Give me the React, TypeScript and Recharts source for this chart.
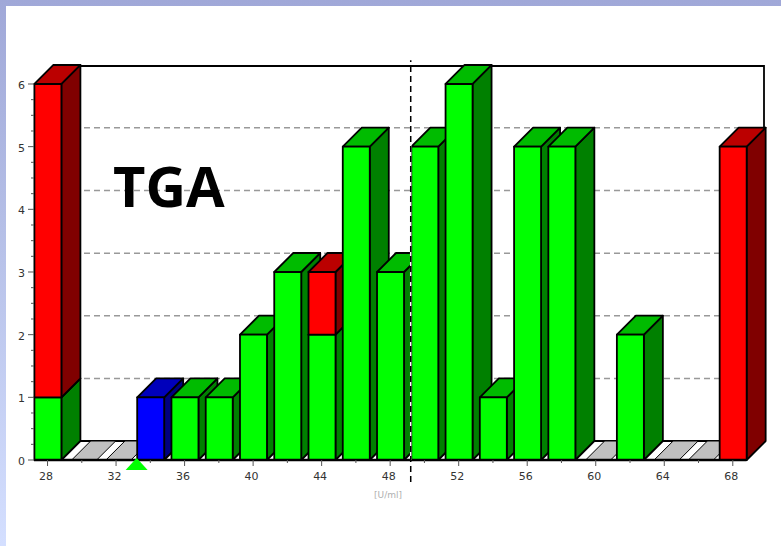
import React from "react";
import { ComposedChart, Bar, XAxis, YAxis, CartesianGrid, ReferenceLine, ReferenceDot } from "recharts";

const categories = [28, 30, 32, 34, 36, 38, 40, 42, 44, 46, 48, 50, 52, 54, 56, 58, 60, 62, 64, 66, 68];
const greenValues = [1, 0, 0, 0, 1, 1, 2, 3, 2, 5, 3, 5, 6, 1, 5, 5, 0, 2, 0, 0, 0];
const redValues = [5, 0, 0, 0, 0, 0, 0, 0, 1, 0, 0, 0, 0, 0, 0, 0, 0, 0, 0, 0, 5];
const blueValues = [0, 0, 0, 1, 0, 0, 0, 0, 0, 0, 0, 0, 0, 0, 0, 0, 0, 0, 0, 0, 0];
const xTicks = categories;
const yTicks = [0, 0.25, 0.5, 0.75, 1, 1.25, 1.5, 1.75, 2, 2.25, 2.5, 2.75, 3, 3.25, 3.5, 3.75, 4, 4.25, 4.5, 4.75, 5, 5.25, 5.5, 5.75, 6];
const gridLevels = [1.3, 2.3, 3.3, 4.3, 5.3];
const cutoff = 49.2;
const markerAt = 33.2;

const rows = categories.map((c, i) => ({
  c,
  green: greenValues[i],
  red: redValues[i],
  blue: blueValues[i],
  total: greenValues[i] + redValues[i] + blueValues[i],
}));

const DEPTH = 19;
const FONT = "'DejaVu Sans', sans-serif";
const PALETTE: Record<string, [string, string, string]> = {
  green: ["#00ff00", "#00bb00", "#008000"],
  red: ["#ff0000", "#bb0000", "#800000"],
  blue: ["#0000ff", "#0000bb", "#000080"],
};

function Block3D(props: any) {
  const { x, y, width, height, payload } = props;
  const bottom = y + height;
  const edge = { stroke: "#000", strokeWidth: 1.8, strokeLinejoin: "round" as const };
  if (!payload.total) {
    const l = x + 3;
    const w = width - 2;
    return (
      <path
        d={`M${l},${bottom} L${l + DEPTH},${bottom - DEPTH} L${l + w + DEPTH},${bottom - DEPTH} L${l + w},${bottom} Z`}
        fill="#c0c0c0"
        stroke="#000"
        strokeWidth={1}
      />
    );
  }
  const unit = height / payload.total;
  const parts: React.ReactNode[] = [];
  let cursor = bottom;
  (["green", "blue", "red"] as const).forEach((k) => {
    const v = payload[k];
    if (!v) return;
    const h = v * unit;
    const top = cursor - h;
    const [front, lid, side] = PALETTE[k];
    parts.push(
      <g key={k}>
        <path
          d={`M${x + width},${cursor} L${x + width + DEPTH},${cursor - DEPTH} L${x + width + DEPTH},${top - DEPTH} L${x + width},${top} Z`}
          fill={side}
          {...edge}
        />
        <path
          d={`M${x},${top} L${x + DEPTH},${top - DEPTH} L${x + width + DEPTH},${top - DEPTH} L${x + width},${top} Z`}
          fill={lid}
          {...edge}
        />
        <rect x={x} y={top} width={width} height={h} fill={front} {...edge} />
      </g>
    );
    cursor = top;
  });
  return <g>{parts}</g>;
}

function XTick(props: any) {
  const { x, y, payload } = props;
  const major = payload.value % 4 === 0;
  return (
    <g>
      <line x1={x} x2={x} y1={y} y2={y + (major ? 6 : 3)} stroke="#555" />
      {major && (
        <text x={x - 1.5} y={y + 20} textAnchor="middle" fontFamily={FONT} fontSize={11} fill="#333">
          {payload.value}
        </text>
      )}
    </g>
  );
}

function YTick(props: any) {
  const { x, y, payload } = props;
  const major = Number.isInteger(payload.value);
  return (
    <g>
      <line x1={x - (major ? 6 : 3)} x2={x} y1={y} y2={y} stroke="#555" />
      {major && (
        <text x={x - 9} y={y + 5} textAnchor="end" fontFamily={FONT} fontSize={11} fill="#333">
          {payload.value}
        </text>
      )}
    </g>
  );
}

function Marker(props: any) {
  const { cx, cy } = props;
  return <path d={`M${cx},${cy - 2} L${cx + 11},${cy + 10} L${cx - 11},${cy + 10} Z`} fill="#00ff00" />;
}

export default function App() {
  return (
    <div
      style={{
        position: "fixed",
        left: 0,
        top: 0,
        width: 781,
        height: 546,
        overflow: "hidden",
        background: "linear-gradient(180deg, #a0a8d8 0%, #b4bee6 40%, #d4dfff 100%)",
      }}
    >
      <div style={{ position: "absolute", left: 6, top: 6, right: 0, bottom: 0, background: "#fff" }} />
      <div style={{ position: "absolute", left: 0, top: 0 }}>
        <ComposedChart
          width={781}
          height={546}
          data={rows}
          margin={{ top: 66, right: 16, bottom: 56, left: 0 }}
        >
          <path d="M81,66 L764,66 L764,441 L81,441" fill="none" stroke="#000" strokeWidth={1.8} />
          <path d="M764,441 L746,460" fill="none" stroke="#000" strokeWidth={1.5} />
          <CartesianGrid
            vertical={false}
            horizontalValues={gridLevels}
            stroke="#999"
            strokeDasharray="6 4"
            strokeWidth={1.5}
          />
          <XAxis
            dataKey="c"
            type="number"
            domain={[27.21, 69.88]}
            ticks={xTicks}
            interval={0}
            axisLine={false}
            tickLine={false}
            tickSize={0}
            tickMargin={0}
            height={30}
            tick={<XTick />}
          />
          <YAxis
            type="number"
            domain={[0, 6.287]}
            ticks={yTicks}
            interval={0}
            width={34}
            axisLine={false}
            tickLine={false}
            tickSize={0}
            tickMargin={0}
            tick={<YTick />}
          />
          <Bar dataKey="total" barSize={27} isAnimationActive={false} shape={<Block3D />} />
          <ReferenceLine
            ifOverflow="visible"
            segment={[{ x: 27.21, y: 0 }, { x: 68.8, y: 0 }]}
            stroke="#000"
            strokeWidth={2.5}
          />
          <ReferenceLine
            ifOverflow="visible"
            segment={[{ x: cutoff, y: 0 }, { x: cutoff, y: 6 }]}
            stroke="#fff"
            strokeWidth={1.5}
          />
          <ReferenceLine
            ifOverflow="visible"
            segment={[{ x: cutoff, y: -0.35 }, { x: cutoff, y: 6.38 }]}
            stroke="#000"
            strokeWidth={1.5}
            strokeDasharray="6 4"
          />
          <ReferenceDot x={markerAt} y={0} ifOverflow="visible" shape={<Marker />} />
          <text x={388} y={498} textAnchor="middle" fontFamily={FONT} fontSize={9} fill="#b0b0b0">
            [U/ml]
          </text>
          <text x={113} y={207} fontFamily="'Open Sans', sans-serif" fontWeight={700} fontSize={56} fill="#000">
            TGA
          </text>
        </ComposedChart>
      </div>
    </div>
  );
}
